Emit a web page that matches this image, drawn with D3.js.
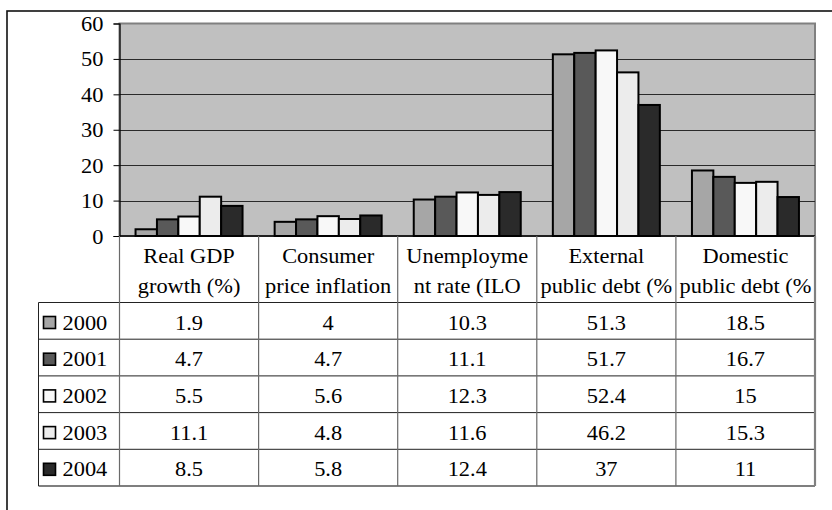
<!DOCTYPE html>
<html>
<head>
<meta charset="utf-8">
<script src="https://cdn.jsdelivr.net/npm/d3@7/dist/d3.min.js"></script>
<style>
  html, body { margin: 0; padding: 0; background: #fff; }
  svg { display: block; }
  svg text.lbl { font-family: "Liberation Serif", "Times New Roman", "DejaVu Serif", serif; }
</style>
</head>
<body>
<svg id="chart" width="832" height="510"></svg>
<script>
// Indicators (table columns) and two-line header labels as they appear in the table
const categories = ["Real GDP growth (%)", "Consumer price inflation", "Unemployment rate (ILO", "External public debt (%", "Domestic public debt (%"];
const headerLines = [
  ["Real GDP", "growth (%)"],
  ["Consumer", "price inflation"],
  ["Unemployme", "nt rate (ILO"],
  ["External", "public debt (%"],
  ["Domestic", "public debt (%"]
];
const years = ["2000", "2001", "2002", "2003", "2004"];
const values2000 = [1.9, 4, 10.3, 51.3, 18.5];
const values2001 = [4.7, 4.7, 11.1, 51.7, 16.7];
const values2002 = [5.5, 5.6, 12.3, 52.4, 15];
const values2003 = [11.1, 4.8, 11.6, 46.2, 15.3];
const values2004 = [8.5, 5.8, 12.4, 37, 11];
const yTicks = [0, 10, 20, 30, 40, 50, 60];

const seriesValues = [values2000, values2001, values2002, values2003, values2004];
const seriesColors = ["#a6a6a6", "#595959", "#f8f8f8", "#ececec", "#2a2a2a"];

const svg = d3.select("#chart");

// Layout
const plotLeft = 119.5, plotRight = 815, plotTop = 23.5, plotBottom = 236;
const tableLeft = 38.5, headerBottom = 302.5, rowH = 36.7;
const FONT = 20, SX = 1.12;   // serif text, slightly stretched horizontally

const x0 = d3.scaleBand().domain(categories).range([plotLeft, plotRight]).padding(0);
const x1 = d3.scaleBand().domain(years).range([0, x0.bandwidth()]).paddingInner(0).paddingOuter(0.75);
const y = d3.scaleLinear().domain([0, 60]).range([plotBottom, plotTop]);

function label(g, txt, x, yPos, anchor) {
  return g.append("text")
    .attr("class", "lbl")
    .attr("transform", `translate(${x},${yPos}) scale(${SX},1)`)
    .attr("text-anchor", anchor)
    .style("font-family", '"Liberation Serif", "Times New Roman", "DejaVu Serif", serif')
    .style("font-size", FONT + "px")
    .attr("fill", "#000")
    .text(txt);
}

// Outer chart frame (extends past the visible area on the right and bottom)
svg.append("rect")
  .attr("x", 7).attr("y", 11).attr("width", 840).attr("height", 520)
  .attr("fill", "none").attr("stroke", "#111").attr("stroke-width", 1.6);

// Plot area background
svg.append("rect")
  .attr("x", plotLeft).attr("y", plotTop)
  .attr("width", plotRight - plotLeft).attr("height", plotBottom - plotTop)
  .attr("fill", "#c0c0c0").attr("stroke", "#808080").attr("stroke-width", 2);

// Gridlines
svg.append("g").selectAll("line")
  .data(yTicks.filter(t => t > 0 && t < 60))
  .join("line")
  .attr("x1", plotLeft).attr("x2", plotRight)
  .attr("y1", d => Math.round(y(d)) + 0.5).attr("y2", d => Math.round(y(d)) + 0.5)
  .attr("stroke", "#2a2a2a").attr("stroke-width", 1);

// Bars
const groups = svg.append("g").selectAll("g")
  .data(categories)
  .join("g")
  .attr("transform", d => `translate(${x0(d)},0)`);

groups.selectAll("rect")
  .data((c, ci) => years.map((yr, si) => ({ yr, si, v: seriesValues[si][ci] })))
  .join("rect")
  .attr("x", d => x1(d.yr))
  .attr("width", x1.bandwidth())
  .attr("y", d => y(d.v))
  .attr("height", d => y(0) - y(d.v))
  .attr("fill", d => seriesColors[d.si])
  .attr("stroke", "#000").attr("stroke-width", 2);

// Y axis
const yAxis = d3.axisLeft(y).tickValues(yTicks).tickSize(6).tickFormat(d3.format("d"));
const yg = svg.append("g").attr("transform", `translate(${plotLeft},0)`).call(yAxis);
yg.select(".domain").attr("stroke", "#000").attr("stroke-width", 1.2);
yg.selectAll(".tick line").attr("stroke", "#000");
yg.selectAll(".tick text").remove();
yg.selectAll(".tick").each(function(d) {
  label(svg, d3.format("d")(d), 103.5, y(d) + 7.5, "end");
});

// X axis line
svg.append("line")
  .attr("x1", plotLeft).attr("x2", plotRight)
  .attr("y1", plotBottom).attr("y2", plotBottom)
  .attr("stroke", "#000").attr("stroke-width", 1.5);

// Data table
const table = svg.append("g");
const tableBottom = headerBottom + rowH * years.length;

// Row separators
const rowYs = d3.range(years.length + 1).map(i => headerBottom + i * rowH);
table.selectAll("line.row")
  .data(rowYs)
  .join("line")
  .attr("class", "row")
  .attr("x1", tableLeft).attr("x2", plotRight)
  .attr("y1", d => d).attr("y2", d => d)
  .attr("stroke", (d, i) => i === years.length ? "#555" : "#222")
  .attr("stroke-width", (d, i) => i === years.length ? 1.6 : 1);

// Column separators
const colXs = categories.map(c => x0(c)).concat([plotRight]);
table.selectAll("line.col")
  .data(colXs)
  .join("line")
  .attr("class", "col")
  .attr("x1", d => d).attr("x2", d => d)
  .attr("y1", plotBottom).attr("y2", tableBottom)
  .attr("stroke", (d, i) => i === colXs.length - 1 ? "#808080" : "#6a6a6a")
  .attr("stroke-width", (d, i) => i === colXs.length - 1 ? 2.2 : 1.2);

// Left edge of the legend column
table.append("line")
  .attr("x1", tableLeft).attr("x2", tableLeft)
  .attr("y1", headerBottom).attr("y2", tableBottom)
  .attr("stroke", "#222").attr("stroke-width", 1);

// Header labels
categories.forEach((c, ci) => {
  const cx = x0(c) + x0.bandwidth() / 2;
  label(table, headerLines[ci][0], cx, 263, "middle");
  label(table, headerLines[ci][1], cx, 293, "middle");
});

// Legend keys and values
years.forEach((yr, si) => {
  const top = headerBottom + si * rowH;
  table.append("rect")
    .attr("x", 43.5).attr("y", top + 14)
    .attr("width", 12).attr("height", 12)
    .attr("fill", seriesColors[si]).attr("stroke", "#000").attr("stroke-width", 1.6);
  label(table, yr, 62.5, top + 27, "start");
  categories.forEach((c, ci) => {
    const cx = x0(c) + x0.bandwidth() / 2;
    label(table, String(seriesValues[si][ci]), cx, top + 27, "middle");
  });
});
</script>
</body>
</html>
